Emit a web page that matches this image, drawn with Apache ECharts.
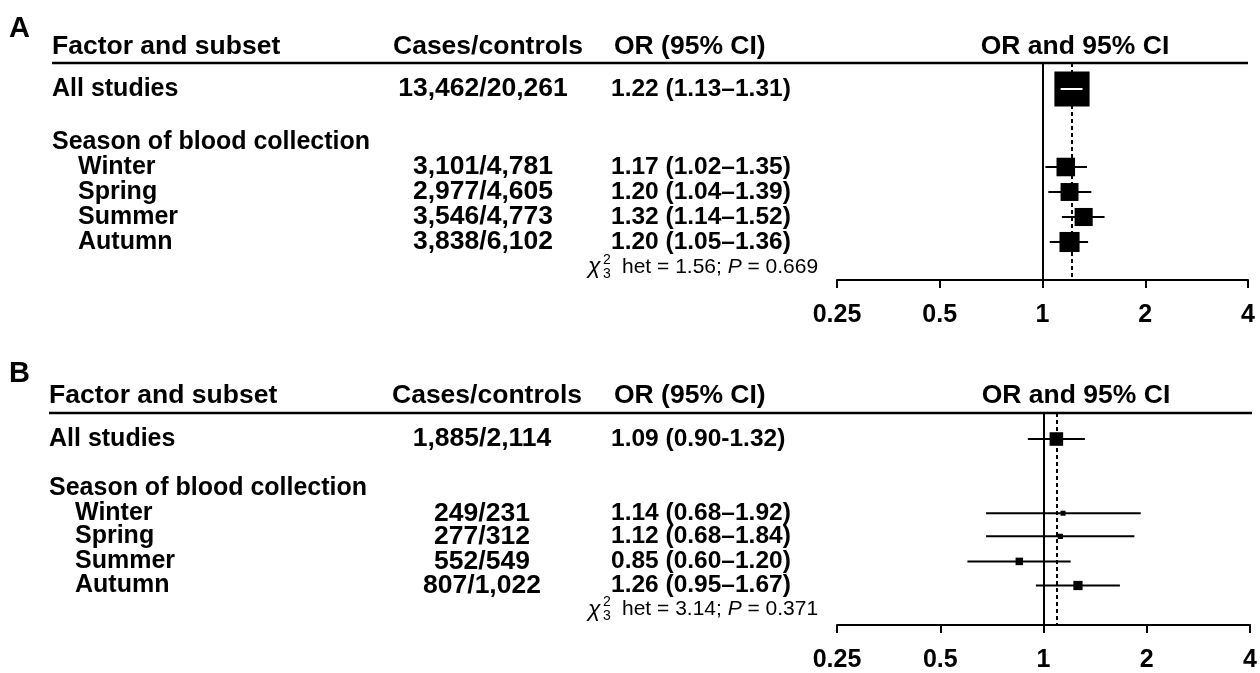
<!DOCTYPE html>
<html>
<head>
<meta charset="utf-8">
<script src="https://cdn.jsdelivr.net/npm/echarts@6/dist/echarts.min.js"></script>
<style>
html,body{margin:0;padding:0;background:#fff;}
#chart{width:1260px;height:673px;}
</style>
</head>
<body>
<div id="chart"></div>
<script>
// ---------------- DATA ----------------
const columnHeaders = ['Factor and subset', 'Cases/controls', 'OR (95% CI)', 'OR and 95% CI'];
const groupHeader = 'Season of blood collection';
const subsets = ['All studies', 'Winter', 'Spring', 'Summer', 'Autumn'];
const xTicks = [0.25, 0.5, 1, 2, 4];

// Panel A
const casesA = ['13,462/20,261', '3,101/4,781', '2,977/4,605', '3,546/4,773', '3,838/6,102'];
const orA = [1.22, 1.17, 1.20, 1.32, 1.20];
const loA = [1.13, 1.02, 1.04, 1.14, 1.05];
const hiA = [1.31, 1.35, 1.39, 1.52, 1.36];
const sepA = ['–', '–', '–', '–', '–'];
const hetA = ['1.56', '0.669'];

// Panel B
const casesB = ['1,885/2,114', '249/231', '277/312', '552/549', '807/1,022'];
const orB = [1.09, 1.14, 1.12, 0.85, 1.26];
const loB = [0.90, 0.68, 0.68, 0.60, 0.95];
const hiB = [1.32, 1.92, 1.84, 1.20, 1.67];
const sepB = ['-', '–', '–', '–', '–'];
const hetB = ['3.14', '0.371'];

// ---------------- LAYOUT ----------------
const FONT = '"Liberation Sans", Arial, Helvetica, sans-serif';
const panels = [
  { letter: 'A', cases: casesA, or: orA, lo: loA, hi: hiA, sep: sepA, het: hetA,
    top: 63, axisY: 280, left: 837, right: 1248,
    xLabel: 52, xIndent: 78, xCases: 483, xOR: 611, xORh: 614, xHet: 588, xCIh: 1075,
    letterY: 29, header: -0.64, rows: [1.04, 4.16, 5.16, 6.16, 7.16], group: 3.16, hetRow: 8.16 },
  { letter: 'B', cases: casesB, or: orB, lo: loB, hi: hiB, sep: sepB, het: hetB,
    top: 413, axisY: 633, left: 837, right: 1252,
    xLabel: 49, xIndent: 75, xCases: 482, xOR: 611, xORh: 614, xHet: 588, xCIh: 1076,
    letterY: 374, header: -0.72, rows: [1.08, 4.16, 5.12, 6.16, 7.16], group: 3.12, hetRow: 8.16 }
];
const ROW = 25;       // pixel pitch of one row unit
const BOX_K = 5.2;    // box side = BOX_K / ln(hi/lo)  (area ∝ inverse variance)

const grids = [], xAxes = [], yAxes = [], series = [], graphics = [];

panels.forEach((p, gi) => {
  const h = p.axisY - p.top;
  grids.push({ left: p.left, width: p.right - p.left, top: p.top, height: h });
  xAxes.push({
    type: 'log', logBase: 2, min: xTicks[0], max: xTicks[xTicks.length - 1], gridIndex: gi,
    position: 'bottom',
    axisLine: { show: true, onZero: false, lineStyle: { color: '#000', width: 2 } },
    axisTick: { show: true, length: 8, lineStyle: { color: '#000', width: 2 } },
    minorTick: { show: false },
    splitLine: { show: false },
    axisLabel: {
      color: '#000', fontSize: 25, fontWeight: 'bold', fontFamily: FONT, margin: 23,
      formatter: v => String(+(+v).toFixed(2))
    }
  });
  yAxes.push({ type: 'value', gridIndex: gi, inverse: true, min: 0, max: h / ROW, show: false });

  // reference line at OR = 1
  series.push({
    type: 'line', xAxisIndex: gi, yAxisIndex: gi, data: [], z: 1, silent: true,
    markLine: {
      symbol: 'none', silent: true, animation: false, label: { show: false },
      data: [{ xAxis: 1, lineStyle: { color: '#000', width: 2, type: 'solid' } }]
    }
  });

  // forest marks
  series.push({
    type: 'custom', xAxisIndex: gi, yAxisIndex: gi, z: 3, silent: true, animation: false,
    data: p.or.map((v, i) => [v, p.rows[i], p.lo[i], p.hi[i]]),
    renderItem: (params, api) => {
      const yv = api.value(1);
      const c = api.coord([api.value(0), yv]);
      const xl = api.coord([api.value(2), yv])[0];
      const xh = api.coord([api.value(3), yv])[0];
      const s = BOX_K / Math.log(api.value(3) / api.value(2));
      const children = [
        { type: 'line', shape: { x1: xl, y1: c[1], x2: xh, y2: c[1] }, style: { stroke: '#000', lineWidth: 2 } },
        { type: 'rect', shape: { x: c[0] - s / 2, y: c[1] - s / 2, width: s, height: s }, style: { fill: '#000' } }
      ];
      if (xh - xl < s) {
        children.push({ type: 'line', shape: { x1: xl, y1: c[1], x2: xh, y2: c[1] }, style: { stroke: '#fff', lineWidth: 2 } });
      }
      return { type: 'group', children };
    }
  });

  // pooled estimate dotted line (on top)
  series.push({
    type: 'line', xAxisIndex: gi, yAxisIndex: gi, data: [], z: 5, silent: true,
    markLine: {
      symbol: 'none', silent: true, animation: false, label: { show: false },
      data: [{ xAxis: p.or[0], lineStyle: { color: '#000', width: 2, type: [4, 3] } }]
    }
  });

  // table text
  const items = [[1, p.header, 0, 0], [1, p.group, 2, 0], [1, p.hetRow, 3, 0]];
  subsets.forEach((s, i) => items.push([1, p.rows[i], 1, i]));
  const bold = { fill: '#000', fontSize: 26.5, fontWeight: 'bold', fontFamily: FONT, verticalAlign: 'middle' };
  series.push({
    type: 'custom', xAxisIndex: gi, yAxisIndex: gi, z: 4, silent: true, animation: false, clip: false,
    data: items,
    renderItem: (params, api) => {
      const kind = api.value(2), i = api.value(3);
      const y = api.coord([1, api.value(1)])[1];
      const t = (x, text, align, extra) => ({ type: 'text', style: Object.assign({}, bold, { x, y, text, align }, extra || {}) });
      if (kind === 0) {
        return { type: 'group', children: [
          t(p.xLabel, columnHeaders[0], 'left'),
          t(p.xCases + 5, columnHeaders[1], 'center'),
          t(p.xORh, columnHeaders[2], 'left'),
          t(p.xCIh, columnHeaders[3], 'center')
        ] };
      }
      if (kind === 1) {
        const orTxt = p.or[i].toFixed(2) + ' (' + p.lo[i].toFixed(2) + p.sep[i] + p.hi[i].toFixed(2) + ')';
        return { type: 'group', children: [
          t(i === 0 ? p.xLabel : p.xIndent, subsets[i], 'left', { fontSize: 25 }),
          t(p.xCases, p.cases[i], 'center'),
          t(p.xOR, orTxt, 'left', { fontSize: 24.5 })
        ] };
      }
      if (kind === 2) {
        return t(p.xLabel, groupHeader, 'left', { fontSize: 25 });
      }
      const reg = { fill: '#000', fontFamily: FONT, fontWeight: 'normal', verticalAlign: 'middle', align: 'left' };
      return { type: 'group', children: [
        { type: 'text', style: Object.assign({}, reg, { x: p.xHet, y: y, text: 'χ', fontSize: 23, fontStyle: 'italic' }) },
        { type: 'text', style: Object.assign({}, reg, { x: p.xHet + 15, y: y - 7, text: '2', fontSize: 14 }) },
        { type: 'text', style: Object.assign({}, reg, { x: p.xHet + 15, y: y + 7, text: '3', fontSize: 14 }) },
        { type: 'text', style: Object.assign({}, reg, {
            x: p.xHet + 34, y: y, fontSize: 21,
            text: 'het = ' + p.het[0] + '; {i|P} = ' + p.het[1],
            rich: { i: { fontStyle: 'italic', fontSize: 21, fontFamily: FONT, fill: '#000' } }
        }) }
      ] };
    }
  });

  // header rule and panel letter
  graphics.push({ type: 'line', shape: { x1: p.xLabel, y1: p.top, x2: p.right, y2: p.top }, style: { stroke: '#000', lineWidth: 2.5 } });
  graphics.push({ type: 'text', style: { x: 9, y: p.letterY, text: p.letter, fill: '#000', fontSize: 29, fontWeight: 'bold', fontFamily: FONT, verticalAlign: 'middle' } });
});

const chart = echarts.init(document.getElementById('chart'), null, { renderer: 'canvas' });
chart.setOption({
  backgroundColor: '#fff',
  animation: false,
  grid: grids,
  xAxis: xAxes,
  yAxis: yAxes,
  series: series,
  graphic: graphics
});
</script>
</body>
</html>
